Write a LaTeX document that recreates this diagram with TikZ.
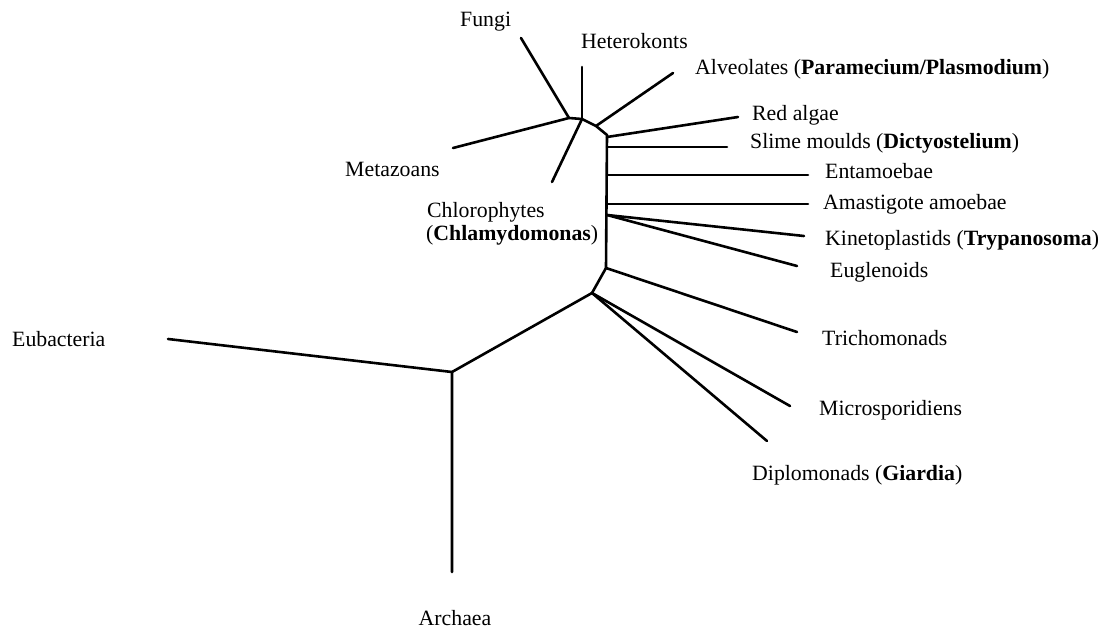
\documentclass[tikz,border=0pt]{standalone}
\usepackage{fontspec}
\setmainfont{Liberation Serif}
\begin{document}
\begin{tikzpicture}[x=1pt,y=-1pt,
  branch/.style={line width=2.6pt, line cap=round, line join=round},
  lbl/.style={anchor=base west, inner sep=0pt, font=\fontsize{21.8}{20}\selectfont}]
\useasboundingbox (0,0) rectangle (1106,628);
% internal nodes
\coordinate (nFM) at (569,118);
\coordinate (nHC) at (582,119);
\coordinate (nAl) at (596,126);
\coordinate (nTop) at (607,135);
\coordinate (sRA) at (607,137);
\coordinate (sSM) at (607,147);
\coordinate (sEn) at (607,175);
\coordinate (sAm) at (607,204);
\coordinate (sKE) at (607,215);
\coordinate (sBot) at (606,268);
\coordinate (nMD) at (592,293);
\coordinate (root) at (452,372);
% leaf ends
\coordinate (eFu) at (521,38);
\coordinate (eHe) at (582,67);
\coordinate (eMe) at (453,148);
\coordinate (eCh) at (552,182);
\coordinate (eAl) at (673,73);
\coordinate (eRA) at (738,117);
\coordinate (eSM) at (727,147);
\coordinate (eEn) at (808,175);
\coordinate (eAm) at (808,204);
\coordinate (eKi) at (804,236);
\coordinate (eEu) at (797,266);
\coordinate (eTr) at (797,332);
\coordinate (eMi) at (790,406);
\coordinate (eDi) at (767,441);
\coordinate (eEb) at (168,339);
\coordinate (eAr) at (452,572);
% branches
\draw[branch] (eMe) -- (nFM) -- (nHC) -- (nAl) -- (nTop) -- (sBot) -- (nMD) -- (root) -- (eAr);
\draw[branch] (eFu) -- (nFM);
\draw[branch] (eHe) -- (nHC);
\draw[branch] (eCh) -- (nHC);
\draw[branch] (nAl) -- (eAl);
\draw[branch] (sRA) -- (eRA);
\draw[branch] (sSM) -- (eSM);
\draw[branch] (sEn) -- (eEn);
\draw[branch] (sAm) -- (eAm);
\draw[branch] (sKE) -- (eKi);
\draw[branch] (sKE) -- (eEu);
\draw[branch] (sBot) -- (eTr);
\draw[branch] (nMD) -- (eMi);
\draw[branch] (nMD) -- (eDi);
\draw[branch] (root) -- (eEb);
% labels
\node[lbl] (lFu) at (460,27) {Fungi};
\node[lbl] (lHe) at (581,49) {Heterokonts};
\node[lbl] (lAl) at (695,75) {Alveolates (\textbf{Paramecium/Plasmodium})};
\node[lbl] (lRA) at (752,121) {Red algae};
\node[lbl] (lSM) at (750,149) {Slime moulds (\textbf{Dictyostelium})};
\node[lbl] (lEn) at (825,179) {Entamoebae};
\node[lbl] (lAm) at (823,210) {Amastigote amoebae};
\node[lbl] (lKi) at (825,246) {Kinetoplastids (\textbf{Trypanosoma})};
\node[lbl] (lEu) at (830,278) {Euglenoids};
\node[lbl] (lTr) at (822,345) {Trichomonads};
\node[lbl] (lMi) at (819,415) {Microsporidiens};
\node[lbl] (lDi) at (752,480) {Diplomonads (\textbf{Giardia})};
\node[lbl] (lEb) at (12,346) {Eubacteria};
\node[lbl] (lMe) at (345,177) {Metazoans};
\node[lbl] (lCh) at (427,218) {Chlorophytes};
\node[lbl] (lCh2) at (426,241) {(\textbf{Chlamydomonas})};
\node[lbl, anchor=base] (lAr) at (455,625) {Archaea};
\end{tikzpicture}
\end{document}
